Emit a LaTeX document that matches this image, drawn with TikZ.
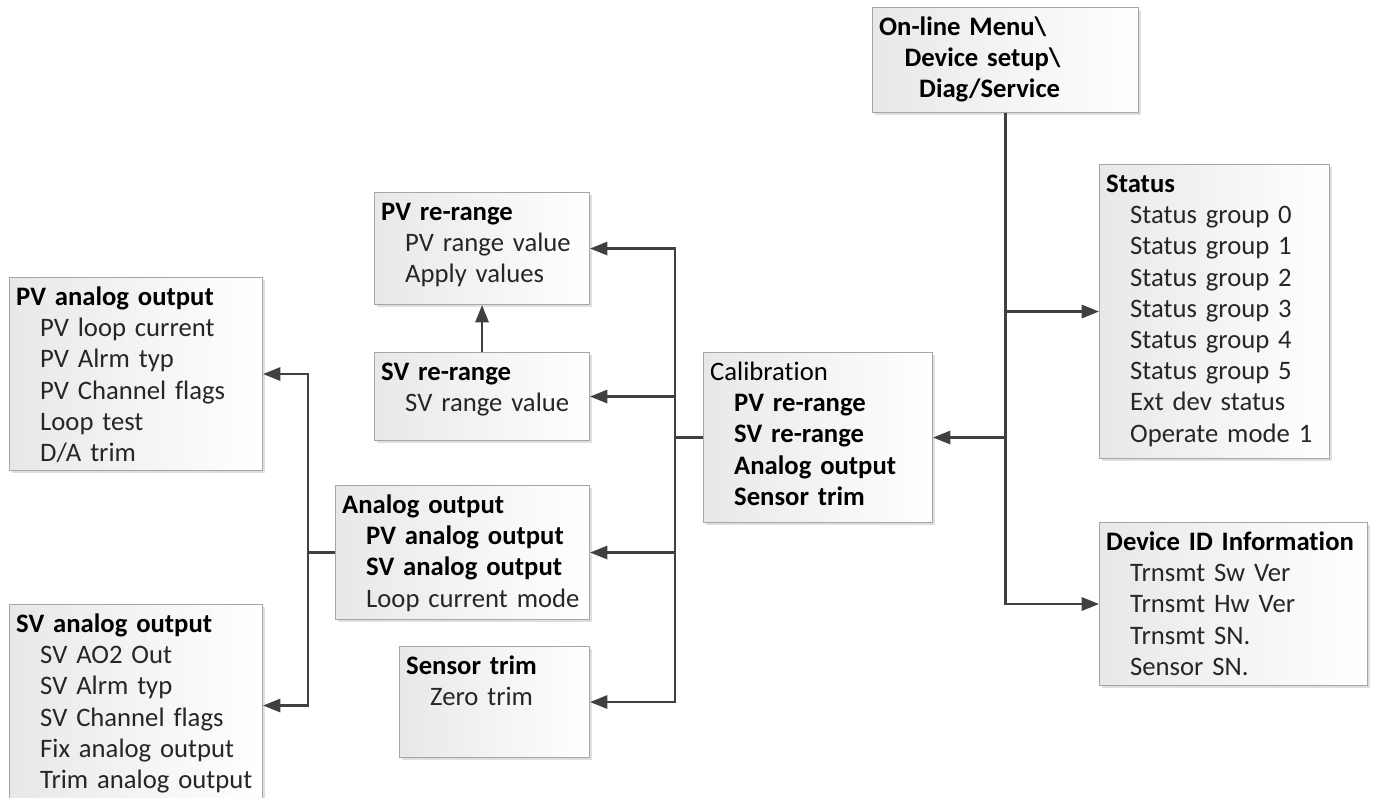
\documentclass[tikz,border=0pt]{standalone}
\usepackage{fontspec}
\setmainfont{Carlito}[Ligatures=NoCommon]
\usetikzlibrary{arrows.meta,shadows}

\tikzset{
    menubox/.style={draw=black!35, line width=0.8pt, left color=black!9, right color=white,
        drop shadow={shadow xshift=1.5pt, shadow yshift=-1.5pt, opacity=0.25},
        anchor=north west, align=left, inner xsep=5pt, inner ysep=0pt, text height=21pt,
        font=\fontsize{20}{23.4}\selectfont, text=black!85},
    bus/.style={draw=black!75, line width=1.6pt},
    link/.style={bus, -{Triangle[length=13pt,width=10pt]}}
}
\newcommand{\menuhead}[1]{\textcolor{black}{\textbf{#1}}}
\newcommand{\menuitem}{\hspace*{18pt}}

\begin{document}
\begin{tikzpicture}[x=0.75pt, y=-0.75pt]
        \useasboundingbox (0,0) rectangle (1374,798);

        \node[menubox, text width=189.5pt, text depth=57.75pt] (menu) at (872,7)
            {\menuhead{On-line Menu\textbackslash}\\\hspace*{19pt}\menuhead{Device setup\textbackslash}\\\hspace*{30pt}\menuhead{Diag/Service}};
        \node[menubox, text width=162.5pt, text depth=199.5pt] (status) at (1099,164)
            {\menuhead{Status}\\\menuitem Status group 0\\\menuitem Status group 1\\\menuitem Status group 2\\\menuitem Status group 3\\\menuitem Status group 4\\\menuitem Status group 5\\\menuitem Ext dev status\\\menuitem Operate mode 1};
        \node[menubox, text width=191pt, text depth=101.25pt] (devid) at (1099,522)
            {\menuhead{Device ID Information}\\\menuitem Trnsmt Sw Ver\\\menuitem Trnsmt Hw Ver\\\menuitem Trnsmt SN.\\\menuitem Sensor SN.};
        \node[menubox, text width=161.75pt, text depth=106.5pt] (calib) at (703,352)
            {\textcolor{black}{Calibration}\\\menuitem\menuhead{PV re-range}\\\menuitem\menuhead{SV re-range}\\\menuitem\menuhead{Analog output}\\\menuitem\menuhead{Sensor trim}};

        \node[menubox, text width=151.25pt, text depth=63pt] (pvrr) at (374,192)
            {\menuhead{PV re-range}\\\menuitem PV range value\\\menuitem Apply values};
        \node[menubox, text width=151.25pt, text depth=45pt] (svrr) at (374,352)
            {\menuhead{SV re-range}\\\menuitem SV range value};
        \node[menubox, text width=180.5pt, text depth=79.5pt] (aout) at (335,485)
            {\menuhead{Analog output}\\\menuitem\menuhead{PV analog output}\\\menuitem\menuhead{SV analog output}\\\menuitem Loop current mode};
        \node[menubox, text width=132.5pt, text depth=62.25pt] (strim) at (399,646)
            {\menuhead{Sensor trim}\\\menuitem Zero trim};

        \node[menubox, text width=179.75pt, text depth=123.75pt] (pvao) at (9,277)
            {\menuhead{PV analog output}\\\menuitem PV loop current\\\menuitem PV Alrm typ\\\menuitem PV Channel flags\\\menuitem Loop test\\\menuitem D/A trim};
        \node[menubox, text width=179.75pt, text depth=130.5pt] (svao) at (9,604)
            {\menuhead{SV analog output}\\\menuitem SV AO2 Out\\\menuitem SV Alrm typ\\\menuitem SV Channel flags\\\menuitem Fix analog output\\\menuitem Trim analog output};

        % from the Diag/Service menu
        \foreach \n in {status,devid} {
            \draw[link] (menu.south) |- (\n.west);
        }
        \draw[link] (menu.south) |- (calib.east);

        % calibration submenus
        \draw[bus] (calib.west) -- ++(-28,0) coordinate (calbus);
        \foreach \n in {pvrr,svrr,aout,strim} {
            \draw[link] (calbus) |- (\n.east);
        }
        \draw[link] (svrr.north) -- (pvrr.south);

        % analog output submenus
        \draw[bus] (aout.west) -- ++(-27,0) coordinate (aobus);
        \foreach \n in {pvao,svao} {
            \draw[link] (aobus) |- (\n.east);
        }
    \end{tikzpicture}
\end{document}
